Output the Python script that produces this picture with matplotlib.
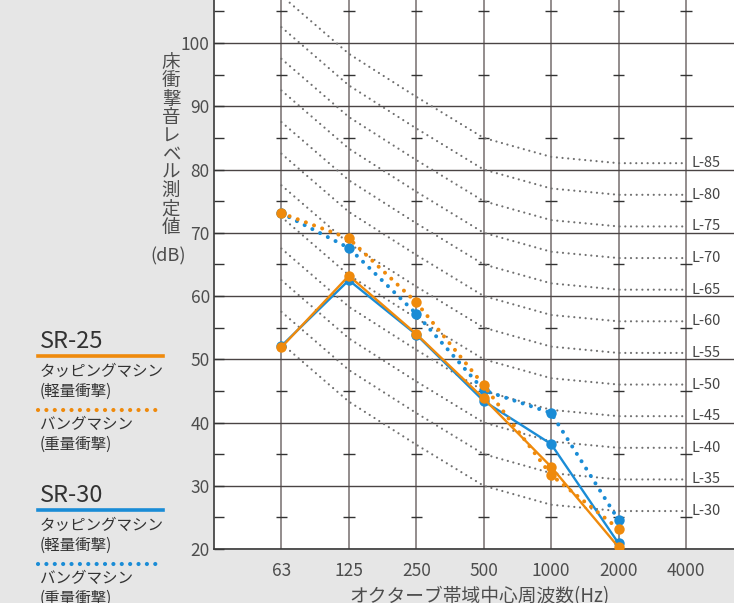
import numpy as np
import matplotlib
matplotlib.use("Agg")
import matplotlib.pyplot as plt
from matplotlib.lines import Line2D

plt.rcParams['font.family'] = ['Noto Sans CJK JP', 'DejaVu Sans']

# octave band centre frequencies
freq_labels = ['63', '125', '250', '500', '1000', '2000', '4000']

# measured floor impact sound levels (dB), 63 Hz .. 2000 Hz
sr25_tap = [51.9, 63.2, 54.0, 43.8, 33.0, 20.3]
sr25_heavy = [73.1, 69.1, 59.0, 45.9, 31.7, 23.2]
sr30_tap = [52.1, 62.5, 53.9, 43.4, 36.6, 20.9]
sr30_heavy = [73.1, 67.6, 57.2, 45.1, 41.5, 24.6]

# L-number reference curves: offset from the L value at each band
L_numbers = [30, 35, 40, 45, 50, 55, 60, 65, 70, 75, 80, 85]
L_offsets = [22.5, 13.3, 6.5, 0, -3, -4, -4]

orange = '#ef8a0c'
blue = '#1a8cd6'
W, H = 734, 603

fig = plt.figure(figsize=(7.34, 6.03), dpi=100, facecolor='#e6e6e6')
ax = fig.add_axes([214 / W, 54 / H, 520 / W, 549 / H])
ax.set_facecolor('white')

xi = np.arange(1, len(freq_labels) + 1)
ax.set_xlim(0, 7.713)
ax.set_ylim(20, 106.8)

# grid
ax.set_xticks(xi)
ax.set_xticklabels(freq_labels)
ax.set_yticks(np.arange(20, 101, 10))
ax.set_yticks(np.arange(25, 106, 10), minor=True)
ax.grid(axis='y', which='major', color='#4a4444', lw=1.0, zorder=1)
ax.grid(axis='x', which='major', color='#8a8383', lw=1.3, zorder=1)
ax.set_axisbelow(True)
ax.tick_params(axis='x', length=0, pad=9, labelsize=12.5, labelcolor='#4d4d4d')
ax.tick_params(axis='y', which='both', direction='in', length=7, width=1,
               color='#333333', pad=3, labelsize=12.5, labelcolor='#4d4d4d')
for s in ['top', 'right']:
    ax.spines[s].set_visible(False)
for s in ['left', 'bottom']:
    ax.spines[s].set_color('#3a3a3a')
    ax.spines[s].set_linewidth(1.2)

# small cross ticks on the vertical lines
minor_y = np.arange(25, 106, 10)
for x in xi:
    ax.hlines(minor_y, x - 0.085, x + 0.085, color='#333333', lw=1.0, zorder=2)

# L curves
for L in L_numbers:
    vals = [L + o for o in L_offsets]
    ax.plot(xi, vals, color='#707070', lw=1.6, linestyle=(0, (0.01, 2.55)),
            dash_capstyle='round', zorder=3)
    ax.text(7.09, vals[-1], 'L-%d' % L, fontsize=10.5, color='#444444',
            ha='left', va='center', zorder=4)

# data
xd = xi[:len(sr25_tap)]
dot = (0, (0.01, 2.15))
ax.plot(xd, sr30_heavy, color=blue, lw=2.9, linestyle=dot, dash_capstyle='round', zorder=5)
ax.plot(xd, sr30_heavy, 'o', color=blue, ms=7.5, mew=0, zorder=6)
ax.plot(xd, sr30_tap, color=blue, lw=1.7, marker='o', ms=7.5, mew=0, zorder=6)
ax.plot(xd, sr25_heavy, color=orange, lw=2.9, linestyle=dot, dash_capstyle='round', zorder=7)
ax.plot(xd, sr25_heavy, 'o', color=orange, ms=7.5, mew=0, zorder=8)
ax.plot(xd, sr25_tap, color=orange, lw=1.7, marker='o', ms=7.5, mew=0, zorder=8)

# y label, stacked vertically
ylabel_chars = list('床衝撃音レベル測定値')
for i, ch in enumerate(ylabel_chars):
    fig.text(171 / W, 1 - (68 + i * 18.3) / H, ch, fontsize=13.3, color='#4d4d4d',
             ha='center', va='baseline')
fig.text(168 / W, 1 - 261 / H, '(dB)', fontsize=13, color='#4d4d4d',
         ha='center', va='baseline')

# x label (cut at the bottom edge, as in the source)
fig.text(480 / W, 1 - 602.5 / H, 'オクターブ帯域中心周波数(Hz)', fontsize=13.5,
         color='#4d4d4d', ha='center', va='baseline')

# legend on the left
def fy(y):
    return 1 - y / H

def legend_block(y0, name, color):
    fig.text(40 / W, fy(y0), name, fontsize=17, color='#333333', va='baseline')
    fig.add_artist(Line2D([38 / W, 163 / W], [fy(y0 + 8)] * 2, color=color, lw=2.6,
                          transform=fig.transFigure))
    fig.text(40 / W, fy(y0 + 27.5), 'タッピングマシン', fontsize=11.2, color='#333333', va='baseline')
    fig.text(40 / W, fy(y0 + 47.5), '(軽量衝撃)', fontsize=11.2, color='#333333', va='baseline')
    fig.add_artist(Line2D([38 / W, 157 / W], [fy(y0 + 62)] * 2, color=color, lw=3.0,
                          linestyle=(0, (0.01, 2.0)), dash_capstyle='round',
                          transform=fig.transFigure))
    fig.text(40 / W, fy(y0 + 81), 'バングマシン', fontsize=11.2, color='#333333', va='baseline')
    fig.text(40 / W, fy(y0 + 101), '(重量衝撃)', fontsize=11.2, color='#333333', va='baseline')

legend_block(348, 'SR-25', orange)
legend_block(502, 'SR-30', blue)

fig.savefig('out.png', dpi=100, facecolor=fig.get_facecolor())
